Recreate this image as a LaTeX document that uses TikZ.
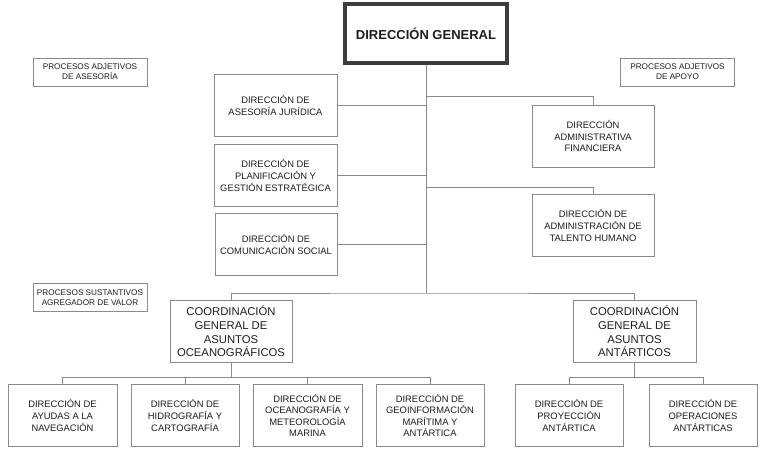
\documentclass[tikz,border=0pt]{standalone}
\usepackage{fontspec}
\setmainfont{Liberation Sans}
\usepackage{tikz}
\usetikzlibrary{arrows.meta}
\definecolor{linec}{HTML}{8A8A8A}
\definecolor{txtc}{HTML}{1E1E1E}
\definecolor{dgc}{HTML}{3C3C3C}

\begin{document}
\begin{tikzpicture}[x=1pt,y=-1pt,
box/.style={draw=linec,line width=0.9pt,fill=white,align=center,inner sep=0pt,text=txtc,
  font=\fontsize{9.4}{11.6}\selectfont,minimum width=122pt,minimum height=62pt},
small/.style={box,minimum width=108pt},
coord/.style={box,font=\fontsize{11.3}{13.6}\selectfont},
note/.style={box,font=\fontsize{8.2}{10}\selectfont,minimum width=114pt,minimum height=28pt},
wire/.style={draw=linec,line width=0.9pt}]
\useasboundingbox (0,0) rectangle (768,453);
% cabeza
\node[box,draw=dgc,line width=3.6pt,minimum width=162pt,minimum height=59pt,
  font=\fontsize{13}{15}\selectfont\bfseries](dg) at (426,33.5){DIRECCIÓN GENERAL};
% procesos
\node[note](pasesoria) at (90,72){PROCESOS ADJETIVOS\\DE ASESORÍA};
\node[note](papoyo) at (677.5,72){PROCESOS ADJETIVOS\\DE APOYO};
\node[note](psust) at (90,297.5){PROCESOS SUSTANTIVOS\\AGREGADOR DE VALOR};
% asesoria
\node[box,minimum width=123pt](juridica) at (275.5,105.5){DIRECCIÓN DE\\ASESORÍA JURÍDICA};
\node[box,minimum width=123pt](planif) at (275.5,175.5){DIRECCIÓN DE\\PLANIFICACIÓN Y\\GESTIÓN ESTRATÉGICA};
\node[box](comunic) at (276,244.5){DIRECCIÓN DE\\COMUNICACIÓN SOCIAL};
% apoyo
\node[box](financ) at (593,136){DIRECCIÓN\\ADMINISTRATIVA\\FINANCIERA};
\node[box](talento) at (593,225.5){DIRECCIÓN DE\\ADMINISTRACIÓN DE\\TALENTO HUMANO};
% coordinaciones
\node[coord](coceano) at (231,331.5){COORDINACIÓN\\GENERAL DE\\ASUNTOS\\OCEANOGRÁFICOS};
\node[coord,minimum width=123pt](coantar) at (634.5,331.5){COORDINACIÓN\\GENERAL DE\\ASUNTOS\\ANTÁRTICOS};
% direcciones
\node[small,minimum width=109pt](ayudas) at (62.5,415.5){DIRECCIÓN DE\\AYUDAS A LA\\NAVEGACIÓN};
\node[small](hidro) at (185,415.5){DIRECCIÓN DE\\HIDROGRAFÍA Y\\CARTOGRAFÍA};
\node[small,minimum width=109pt](oceano) at (307.5,415.5){DIRECCIÓN DE\\OCEANOGRAFÍA Y\\METEOROLOGÍA\\MARINA};
\node[small](geoinf) at (430,415.5){DIRECCIÓN DE\\GEOINFORMACIÓN\\MARÍTIMA Y\\ANTÁRTICA};
\node[small](proyec) at (569,415.5){DIRECCIÓN DE\\PROYECCIÓN\\ANTÁRTICA};
\node[small](operac) at (703,415.5){DIRECCIÓN DE\\OPERACIONES\\ANTÁRTICAS};
% lineas
\coordinate (bus) at (426,293);
\draw[wire](dg.south)--(bus);
\draw[wire](juridica.east)--(juridica.east-|dg.south)
(planif.east)--(planif.east-|dg.south)
(comunic.east)--(comunic.east-|dg.south);
\draw[wire](financ.north)--++(0,-8)-|(dg.south)
(talento.north)--++(0,-7)-|(dg.south);
\draw[wire](coceano.north)|-(bus)-|(coantar.north);
\draw[wire](coceano.south)--++(0,14)coordinate(ob)
(ayudas.north)|-(ob) (hidro.north)|-(ob) (oceano.north)|-(ob) (geoinf.north)|-(ob);
\draw[wire](coantar.south)--++(0,14)coordinate(ab)
(proyec.north)|-(ab) (operac.north)|-(ab);
\end{tikzpicture}
\end{document}
